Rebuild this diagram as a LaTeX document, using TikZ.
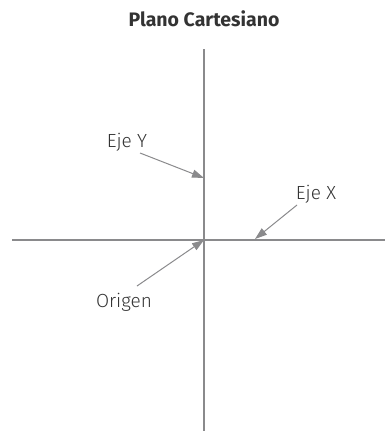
\documentclass[tikz,border=0pt]{standalone}
\usepackage{fontspec}
\setmainfont{Fira Sans}
\newfontfamily\lightfont{Fira Sans Light}
\usetikzlibrary{arrows.meta}
\definecolor{axisgray}{HTML}{8A8A8C}
\definecolor{textgray}{HTML}{333333}
\begin{document}
\begin{tikzpicture}[x=1pt,y=-1pt,
  axis/.style={draw=axisgray,line width=1.5pt},
  pointer/.style={draw=axisgray,line width=1pt,-{Triangle[length=12pt,width=8pt]}},
  lbl/.style={text=textgray,font=\lightfont\fontsize{19}{19}\selectfont,inner sep=0pt,anchor=base},
  ttl/.style={text=textgray,font=\bfseries\fontsize{19.5}{19.5}\selectfont,inner sep=0pt,anchor=base}]
\useasboundingbox (0,0) rectangle (385,431);
\coordinate (ytop) at (204,49);
\coordinate (ybot) at (204,431);
\coordinate (xl) at (12,240);
\coordinate (xr) at (385,240);
\coordinate (origin) at (204,240);
\coordinate (ytip) at (204,178);
\coordinate (xtip) at (255,239);
\coordinate (ystart) at (140,153);
\coordinate (xstart) at (297,205);
\coordinate (ostart) at (137,286);
\draw[axis] (ytop) -- (ybot);
\draw[axis] (xl) -- (xr);
\node[ttl] (title) at (204,26.5) {Plano Cartesiano};
\node[lbl] (ly) at (127,147) {Eje Y};
\node[lbl] (lx) at (316,199.5) {Eje X};
\node[lbl] (lo) at (124,307) {Origen};
\draw[pointer] (ystart) -- (ytip);
\draw[pointer] (xstart) -- (xtip);
\draw[pointer] (ostart) -- (origin);
\end{tikzpicture}
\end{document}
